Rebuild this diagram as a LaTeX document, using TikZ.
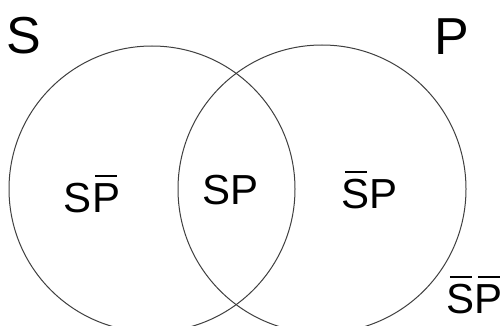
\documentclass[tikz,border=0pt]{standalone}
\usepackage{fontspec}
\setmainfont{Liberation Sans}
\newcommand\ob[1]{\begingroup\setbox0\hbox{#1}\dimen0=\wd0\advance\dimen0 by -0.15em\rlap{\hspace{0.08em}\raisebox{0.83em}{\rule{\dimen0}{0.055em}}}\box0\endgroup}
\tikzset{
  ring/.style={draw=black!75, line width=1pt},
  big/.style={font=\fontsize{52}{52}\selectfont, inner sep=0pt, anchor=base},
  region/.style={font=\fontsize{42}{42}\selectfont, inner sep=0pt, anchor=base},
}
\begin{document}
\begin{tikzpicture}[x=1pt,y=-1pt]
\useasboundingbox (0,0) rectangle (503,326);
\clip (0,0) rectangle (503,326);
\fill[white] (0,0) rectangle (503,326);
\coordinate (cs) at (152,189);
\coordinate (cp) at (322,189);
\draw[ring] (cs) circle[radius=143];
\draw[ring] (cp) circle[radius=144];
\node[big] (ls) at (23.5,54) {S};
\node[big] (lp) at (452,55) {P};
\node[region] (snp) at (92,212) {S\ob{P}};
\node[region] (sp) at (230.5,204) {SP};
\node[region] (nsp) at (369.5,208) {\ob{S}P};
\node[region] (nsnp) at (474.5,313) {\ob{S}\ob{P}};
\end{tikzpicture}
\end{document}
